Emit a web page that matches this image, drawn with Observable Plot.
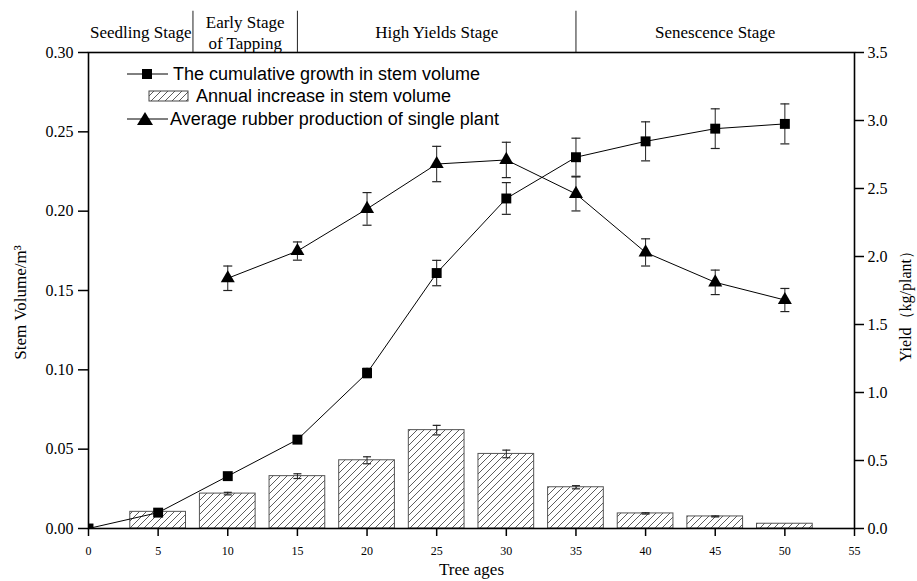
<!DOCTYPE html>
<html>
<head>
<meta charset="utf-8">
<script src="https://cdn.jsdelivr.net/npm/d3@7"></script>
<script src="https://cdn.jsdelivr.net/npm/@observablehq/plot@0.6"></script>
<style>
  html, body { margin: 0; padding: 0; background: #ffffff; }
  #chart svg { display: block; }
</style>
</head>
<body>
<div id="chart"></div>
<script>
// Cumulative growth in stem volume (m³) by tree age
const ages = [0, 5, 10, 15, 20, 25, 30, 35, 40, 45, 50];
const cumulativeVolume = [0, 0.010, 0.033, 0.056, 0.098, 0.161, 0.208, 0.234, 0.244, 0.252, 0.255];
const cumulativeErr = [0, 0, 0, 0, 0.003, 0.008, 0.010, 0.012, 0.0123, 0.0125, 0.0126];

// Annual increase in stem volume (m³)
const barAges = [5, 10, 15, 20, 25, 30, 35, 40, 45, 50];
const annualIncrease = [0.0105, 0.022, 0.033, 0.043, 0.062, 0.047, 0.026, 0.0095, 0.0076, 0.003];
const annualErr = [0, 0.0008, 0.0015, 0.0022, 0.003, 0.0024, 0.001, 0.0004, 0.0003, 0];

// Average rubber production of a single plant (kg/plant)
const yieldAges = [10, 15, 20, 25, 30, 35, 40, 45, 50];
const yieldPerPlant = [1.84, 2.04, 2.35, 2.68, 2.71, 2.46, 2.03, 1.81, 1.68];
const yieldErr = [0.09, 0.067, 0.12, 0.13, 0.13, 0.125, 0.10, 0.09, 0.085];

// Growth stages along the age axis
const stageNames = ["Seedling Stage", "Early Stage\nof Tapping", "High Yields Stage", "Senescence Stage"];
const stageBounds = [0, 7.5, 15, 35, 55];

// Axis ticks
const xTicks = [0, 5, 10, 15, 20, 25, 30, 35, 40, 45, 50, 55];
const volumeTicks = [0, 0.05, 0.10, 0.15, 0.20, 0.25, 0.30];
const yieldTicks = [0, 0.5, 1.0, 1.5, 2.0, 2.5, 3.0, 3.5];

const volumeMax = 0.30;
const yieldMax = 3.5;
const k = volumeMax / yieldMax; // yield -> left-axis units
const barHalf = 2;              // half bar width in years
const bandTop = 0.326;          // top of the stage band (left-axis units)

const cumulative = ages.map((a, i) => ({age: a, v: cumulativeVolume[i], e: cumulativeErr[i]}));
const annual = barAges.map((a, i) => ({age: a, v: annualIncrease[i], e: annualErr[i]}));
const yields = yieldAges.map((a, i) => ({age: a, v: yieldPerPlant[i] * k, e: yieldErr[i] * k}));
const stages = stageNames.map((n, i) => ({name: n, mid: (stageBounds[i] + stageBounds[i + 1]) / 2}));
const dividers = stageBounds.slice(1, -1);

// horizontal cap for error bars
const cap = {draw(ctx, size) { const w = Math.sqrt(size / Math.PI); ctx.moveTo(-w, 0); ctx.lineTo(w, 0); }};

function errorBars(data, r) {
  const withErr = data.filter(d => d.e > 0);
  return [
    Plot.ruleX(withErr, {x: "age", y1: d => d.v - d.e, y2: d => d.v + d.e, stroke: "#222", strokeWidth: 1}),
    Plot.dot(withErr, {x: "age", y: d => d.v + d.e, symbol: cap, r, stroke: "#222", strokeWidth: 1.2, fill: "none"}),
    Plot.dot(withErr, {x: "age", y: d => d.v - d.e, symbol: cap, r, stroke: "#222", strokeWidth: 1.2, fill: "none"})
  ];
}

// legend and hatch pattern
function legend(index, scales, values, dims) {
  const g = d3.create("svg:g");
  const pat = g.append("defs").append("pattern")
    .attr("id", "hatch").attr("patternUnits", "userSpaceOnUse")
    .attr("width", 7).attr("height", 7);
  pat.append("rect").attr("width", 7).attr("height", 7).attr("fill", "white");
  pat.append("path").attr("d", "M-1,1 l2,-2 M0,7 l7,-7 M6,8 l2,-2")
    .attr("stroke", "#333").attr("stroke-width", 0.8);

  const x0 = dims.marginLeft, y0 = dims.marginTop;
  const lg = g.append("g").attr("transform", `translate(${x0},${y0})`)
    .attr("font-family", "Liberation Sans, Arial, sans-serif").attr("font-size", 18)
    .attr("text-anchor", "start").attr("fill", "black");
  // row 1: squares
  lg.append("line").attr("x1", 39).attr("x2", 80).attr("y1", 22).attr("y2", 22).attr("stroke", "black");
  lg.append("rect").attr("x", 54).attr("y", 17).attr("width", 10).attr("height", 10).attr("fill", "black");
  lg.append("text").attr("x", 85).attr("y", 22).attr("dy", "0.35em").text("The cumulative growth in stem volume");
  // row 2: hatched bar
  lg.append("rect").attr("x", 61).attr("y", 39).attr("width", 39).attr("height", 10)
    .attr("fill", "url(#hatch)").attr("stroke", "#444");
  lg.append("text").attr("x", 108).attr("y", 44).attr("dy", "0.35em").text("Annual increase in stem volume");
  // row 3: triangles
  lg.append("line").attr("x1", 39).attr("x2", 80).attr("y1", 67).attr("y2", 67).attr("stroke", "black");
  lg.append("path").attr("d", "M57,60 L65,73 L49,73 Z").attr("fill", "black");
  lg.append("text").attr("x", 82).attr("y", 67).attr("dy", "0.35em").text("Average rubber production of single plant");
  return g.node();
}

const chart = Plot.plot({
  width: 917,
  height: 581,
  marginLeft: 88,
  marginRight: 63,
  marginTop: 52,
  marginBottom: 53,
  style: {fontFamily: "Liberation Serif, Times New Roman, serif", fontSize: "16px", color: "black", background: "white"},
  x: {domain: [0, 55]},
  y: {domain: [0, volumeMax]},
  marks: [
    // annual increase bars
    Plot.rectY(annual, {x1: d => d.age - barHalf, x2: d => d.age + barHalf, y: "v", fill: "url(#hatch)", stroke: "#555", strokeWidth: 1}),
    ...errorBars(annual, 4),

    // cumulative growth line
    ...errorBars(cumulative, 4.5),
    Plot.line(cumulative, {x: "age", y: "v", stroke: "black", strokeWidth: 1}),
    Plot.dot(cumulative, {x: "age", y: "v", symbol: "square", r: 5.6, fill: "black", clip: true}),

    // average rubber production line
    ...errorBars(yields, 4.5),
    Plot.line(yields, {x: "age", y: "v", stroke: "black", strokeWidth: 1}),
    Plot.dot(yields, {x: "age", y: "v", symbol: "triangle", r: 5.2, fill: "black"}),

    // axes
    Plot.axisX(xTicks, {tickSize: 8, tickPadding: 10, fontSize: 12, label: null, strokeWidth: 1.5}),
    Plot.axisY(volumeTicks, {anchor: "left", tickSize: 10, tickPadding: 5, fontSize: 16, tickFormat: d3.format(".2f"), label: null, strokeWidth: 1.5}),
    Plot.axisY(yieldTicks.map(v => v * k), {anchor: "right", tickSize: 9, tickPadding: 4, fontSize: 16, tickFormat: d => (d / k).toFixed(1), label: null, strokeWidth: 1.5}),
    Plot.frame({stroke: "black", strokeWidth: 1.6}),

    // axis titles
    Plot.text(["Tree ages"], {frameAnchor: "bottom", dy: 46, fontSize: 17}),
    Plot.text(["Stem Volume/m³"], {frameAnchor: "left", textAnchor: "middle", dx: -68, dy: 12, rotate: -90, fontSize: 17}),
    Plot.text(["Yield（kg/plant）"], {frameAnchor: "right", textAnchor: "middle", dx: 51, dy: 12, rotate: -90, fontSize: 16}),

    // stage band
    Plot.ruleX(dividers, {x: d => d, y1: volumeMax, y2: bandTop, stroke: "#222", strokeWidth: 1}),
    Plot.text(stages, {x: "mid", y: volumeMax, dy: -21, text: "name", fontSize: 17, lineHeight: 1.25}),

    legend
  ]
});

document.getElementById("chart").append(chart);
</script>
</body>
</html>
